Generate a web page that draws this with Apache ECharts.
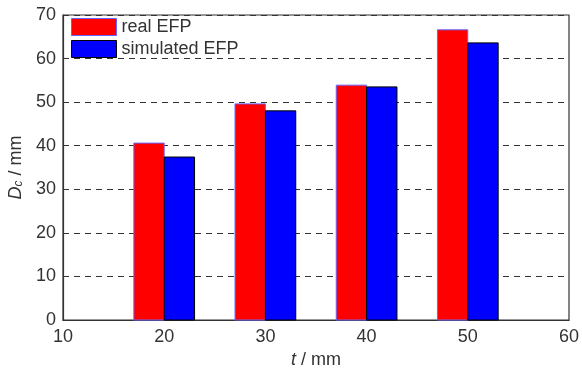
<!DOCTYPE html>
<html><head><meta charset="utf-8">
<script src="https://cdn.jsdelivr.net/npm/echarts@6/dist/echarts.min.js"></script>
<style>html,body{margin:0;padding:0;background:#fff}#c{width:582px;height:368px}</style>
</head><body><div id="c"></div>
<script>
const thickness = [20, 30, 40, 50];
const realEFP = [40.6, 49.6, 53.9, 66.6];
const simulatedEFP = [37.4, 48.0, 53.5, 63.6];
const xTicks = [10, 20, 30, 40, 50, 60];
const yTicks = [0, 10, 20, 30, 40, 50, 60, 70];
const barHalf = 3;
const FONT = '"Liberation Sans",Arial,sans-serif';

function mkSeries(name, vals, offset, color, border) {
  return {
    name: name,
    type: 'custom',
    itemStyle: {color: color, borderColor: border, borderWidth: 1},
    data: thickness.map((t, i) => [t, vals[i]]),
    renderItem: function (params, api) {
      const x = api.value(0), y = api.value(1);
      const p0 = api.coord([x + offset, y]);
      const p1 = api.coord([x + offset + barHalf, 0]);
      return {
        type: 'rect',
        shape: {x: p0[0], y: p0[1], width: p1[0] - p0[0], height: p1[1] - p0[1]},
        style: {fill: color, stroke: border, lineWidth: 1}
      };
    }
  };
}

const chart = echarts.init(document.getElementById('c'));
chart.setOption({
  animation: false,
  grid: {left: 63, right: 13, top: 15, bottom: 48, show: true, borderColor: '#333', borderWidth: 1.2,
    backgroundColor: 'transparent', containLabel: false, outerBoundsMode: 'none'},
  legend: {
    orient: 'vertical', left: 69, top: 16, itemWidth: 45, itemHeight: 17, itemGap: 4,
    padding: [2, 4, 2, 2],
    textStyle: {fontFamily: FONT, fontSize: 18, color: '#333'},
    data: [
      {name: 'real EFP', icon: 'rect', itemStyle: {color: '#ff0000', borderColor: '#6666ff', borderWidth: 1}},
      {name: 'simulated EFP', icon: 'rect', itemStyle: {color: '#0000ff', borderColor: '#000', borderWidth: 1}}
    ]
  },
  xAxis: {
    type: 'value', min: xTicks[0], max: xTicks[xTicks.length - 1], interval: 10,
    axisLine: {lineStyle: {color: '#333', width: 1.2}},
    axisTick: {show: false},
    splitLine: {show: false},
    axisLabel: {fontFamily: FONT, fontSize: 18, color: '#333', margin: 8},
    name: '{i|t} / mm', nameLocation: 'middle', nameGap: 26,
    nameTextStyle: {fontFamily: FONT, fontSize: 18, color: '#333',
      rich: {i: {fontStyle: 'italic', fontFamily: FONT, fontSize: 18, color: '#333'}}}
  },
  yAxis: {
    type: 'value', min: yTicks[0], max: yTicks[yTicks.length - 1], interval: 10,
    axisLine: {lineStyle: {color: '#333', width: 1.2}},
    axisTick: {show: false},
    splitLine: {show: true, lineStyle: {color: '#333', type: [6, 5], width: 1}},
    axisLabel: {fontFamily: FONT, fontSize: 18, color: '#333', margin: 7},
    name: '{i|D}{s|c} / mm', nameLocation: 'middle', nameGap: 34, nameRotate: 90,
    nameTextStyle: {fontFamily: FONT, fontSize: 18, color: '#333',
      rich: {
        i: {fontStyle: 'italic', fontFamily: FONT, fontSize: 18, color: '#333'},
        s: {fontStyle: 'italic', fontFamily: FONT, fontSize: 12, color: '#333', verticalAlign: 'bottom', padding: [6, 0, 0, 0]}
      }}
  },
  series: [
    mkSeries('real EFP', realEFP, -barHalf, '#ff0000', '#6666ff'),
    mkSeries('simulated EFP', simulatedEFP, 0, '#0000ff', '#000')
  ]
});
</script></body></html>
